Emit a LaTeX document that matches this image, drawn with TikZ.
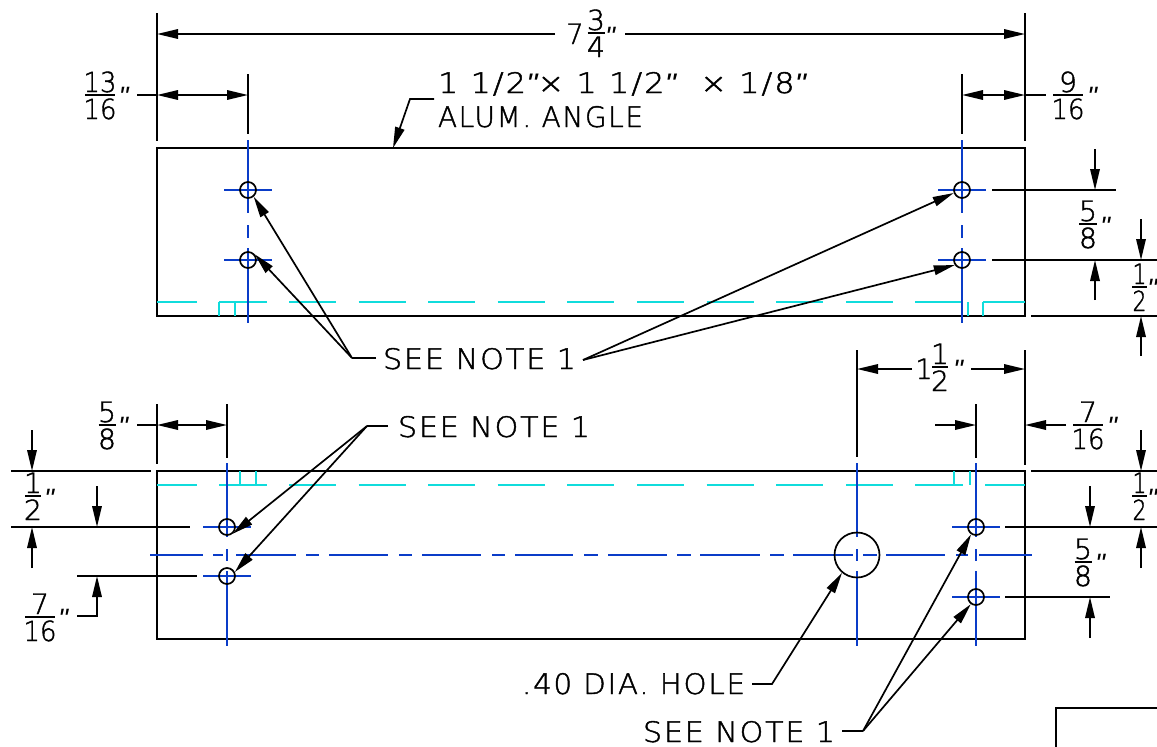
\documentclass[tikz,border=0pt]{standalone}
\usepackage{fontspec}
\usepackage{graphicx}
\usetikzlibrary{arrows.meta}
\setmainfont{DejaVu Sans}
\newfontfamily\cad[LetterSpace=6,FakeBold=1.5]{DejaVu Sans ExtraLight}
\newfontfamily\cadd[FakeBold=1.5]{DejaVu Sans ExtraLight}
\newfontfamily\qf{Liberation Sans Italic}
\definecolor{cline}{HTML}{0A3CC8}
\definecolor{hline}{HTML}{10DCDC}
\tikzset{
  obj/.style={black,line width=1.8pt},
  thinl/.style={black,line width=1.7pt},
  dimarrow/.style={black,line width=1.7pt,-{Triangle[length=21pt,width=9.5pt]}},
  leader/.style={black,line width=1.7pt,-{Triangle[length=21pt,width=9.5pt]}},
  centre/.style={cline,line width=1.8pt},
  hidden/.style={hline,line width=1.7pt},
  hole/.style={circle,draw=black,line width=1.7pt,minimum size=16pt,inner sep=0pt},
  bighole/.style={circle,draw=black,line width=1.7pt,minimum size=45pt,inner sep=0pt},
  txt/.style={inner sep=0pt,outer sep=0pt,text=black}
}
% label: name, x, baseline y, width, height, text
\newcommand{\cadlabel}[6]{\node[txt,anchor=base west] (#1) at (#2,#3) {\resizebox{#4pt}{#5pt}{\cad #6}};}
% fraction: name, centre x, bar y, bar width, num box width, num, den box width, den
\newcommand{\cadfrac}[8]{%
  \node[txt,anchor=base] (#1n) at (#2,#3-3) {\resizebox{#5pt}{20.5pt}{\cadd #6}};
  \node[txt,anchor=base] (#1d) at (#2,#3+24) {\resizebox{#7pt}{20.5pt}{\cadd #8}};
  \draw[black,line width=1.5pt] ({#2-#4/2},#3) -- ({#2+#4/2},#3);}
% inch mark: name, centre x, baseline y
\newcommand{\cadinch}[3]{\node[txt,anchor=base] (#1) at (#2,#3) {\fontsize{28}{28}\qf "};}
\begin{document}
\begin{tikzpicture}[x=1pt,y=-1pt]
\useasboundingbox (0,0) rectangle (1157,747);
\clip (0,0) rectangle (1157,747);

% ---------- plates
\draw[obj] (157,148) rectangle (1025,316);
\draw[obj] (157,471) rectangle (1025,639);
\draw[obj] (1157,708) -- (1056,708) -- (1056,747);

% ---------- hidden lines, top view
\foreach \a/\b in {157/197,219/267,289/336,358.6/405.6,428/475,497.6/544.6,567/614,637/684,706.6/753.6,776/823,846/893,915/962,983/1025}
  \draw[hidden] (\a,302) -- (\b,302);
\foreach \a in {219,235,968,983}
  \draw[hidden] (\a,302) -- (\a,316);
% ---------- hidden lines, bottom view
\foreach \a/\b in {157/197,219/267,289/336,358.6/405.6,428/475,497.6/544.6,567/614,637/684,706.6/753.6,776/823,846/893,915/963,985/1025}
  \draw[hidden] (\a,485) -- (\b,485);
\foreach \a in {240,256,954,970}
  \draw[hidden] (\a,471) -- (\a,485);

% ---------- centre lines, top view
\foreach \x in {248,962}{
  \draw[centre] (\x,140) -- (\x,213);
  \draw[centre] (\x,225) -- (\x,238);
  \draw[centre] (\x,248) -- (\x,323);
  \draw[centre] ({\x-24},190) -- ({\x+24},190);
  \draw[centre] ({\x-24},260) -- ({\x+24},260);
}
% ---------- centre lines, bottom view
\foreach \x in {227,857,976}{
  \draw[centre] (\x,463) -- (\x,537);
  \draw[centre] (\x,549) -- (\x,561);
  \draw[centre] (\x,571) -- (\x,646);
}
\foreach \a/\b in {150/203,213/223,236/296,306/319,329/388,399/412,422/481,492/505,515/573,584/598,608/667,677/691,700/760,770/784,793/853,863/877,886/945,956/968,979/1032}
  \draw[centre] (\a,555) -- (\b,555);
\foreach \y in {527,576}
  \draw[centre] (203,\y) -- (251,\y);
\foreach \y in {527,597}
  \draw[centre] (952,\y) -- (1000,\y);

% ---------- holes
\node[hole] (h1) at (248,190) {};
\node[hole] (h2) at (248,260) {};
\node[hole] (h3) at (962,190) {};
\node[hole] (h4) at (962,260) {};
\node[hole] (b1) at (227,527) {};
\node[hole] (b2) at (227,576) {};
\node[hole] (b3) at (976,527) {};
\node[hole] (b4) at (976,597) {};
\node[bighole] (big) at (857,555) {};

% ---------- extension lines, top view
\draw[thinl] (157,13) -- (157,141);
\draw[thinl] (1025,13) -- (1025,141);
\draw[thinl] (248,74) -- (248,134);
\draw[thinl] (962,74) -- (962,134);
\draw[thinl] (992,190) -- (1116,190);
\draw[thinl] (992,260) -- (1157,260);
\draw[thinl] (1031,316) -- (1157,316);
% ---------- extension lines, bottom view
\draw[thinl] (157,404) -- (157,464);
\draw[thinl] (227,404) -- (227,458);
\draw[thinl] (857,350) -- (857,457);
\draw[thinl] (1025,350) -- (1025,465);
\draw[thinl] (976,404) -- (976,458);
\draw[thinl] (11,471) -- (151,471);
\draw[thinl] (11,527) -- (190,527);
\draw[thinl] (77,576) -- (197,576);
\draw[thinl] (1031,471) -- (1157,471);
\draw[thinl] (1005,527) -- (1157,527);
\draw[thinl] (1005,597) -- (1110,597);

% ---------- horizontal dimensions
\draw[dimarrow] (555,34) -- (157,34);
\draw[dimarrow] (625,34) -- (1025,34);
\draw[thinl] (137,95) -- (157,95);
\draw[dimarrow] (200,95) -- (157,95);
\draw[dimarrow] (200,95) -- (248,95);
\draw[dimarrow] (1005,95) -- (962,95);
\draw[dimarrow] (1000,95) -- (1025,95);
\draw[thinl] (1025,95) -- (1046,95);
\draw[dimarrow] (912,369) -- (857,369);
\draw[dimarrow] (971,369) -- (1025,369);
\draw[thinl] (137,425) -- (157,425);
\draw[dimarrow] (190,425) -- (157,425);
\draw[dimarrow] (190,425) -- (227,425);
\draw[dimarrow] (935,425) -- (976,425);
\draw[dimarrow] (1066,425) -- (1025,425);

% ---------- vertical dimensions
\draw[dimarrow] (1095,149) -- (1095,190);
\draw[dimarrow] (1095,300) -- (1095,260);
\draw[dimarrow] (1141,219) -- (1141,260);
\draw[dimarrow] (1141,356) -- (1141,316);
\draw[dimarrow] (32,430) -- (32,471);
\draw[dimarrow] (32,568) -- (32,527);
\draw[dimarrow] (97,486) -- (97,527);
\draw[dimarrow] (77,616) -- (97,616) -- (97,576);
\draw[dimarrow] (1090,486) -- (1090,527);
\draw[dimarrow] (1090,638) -- (1090,597);
\draw[dimarrow] (1141,430) -- (1141,471);
\draw[dimarrow] (1141,568) -- (1141,527);

% ---------- dimension texts
\node[txt,anchor=base] (d7) at (575,44) {\resizebox{17pt}{20.5pt}{\cadd 7}};
\cadfrac{da}{596}{33}{17}{18}{3}{18}{4}
\cadinch{qa}{610}{46}
\cadfrac{db}{100}{95}{30}{33}{13}{33}{16}
\cadinch{qb}{123.5}{106}
\cadfrac{dc}{1068}{95}{30}{18}{9}{33}{16}
\cadinch{qc}{1092}{106}
\cadfrac{dd}{1088}{224}{18}{18}{5}{18}{8}
\cadinch{qd}{1105}{236}
\cadfrac{de}{1139.5}{287}{15}{14}{1}{14}{2}
\cadinch{qe}{1152}{298}
\node[txt,anchor=base] (d1) at (924,379) {\resizebox{17pt}{20.5pt}{\cadd 1}};
\cadfrac{df}{940}{367}{16}{18}{1}{18}{2}
\cadinch{qf}{958}{379}
\cadfrac{dg}{107}{425}{17}{18}{5}{18}{8}
\cadinch{qg}{123}{436}
\cadfrac{dh}{1088}{425}{30}{18}{7}{33}{16}
\cadinch{qh}{1112}{436}
\cadfrac{di}{33}{496}{16}{18}{1}{18}{2}
\cadinch{qi}{49}{508}
\cadfrac{dj}{40}{617}{30}{18}{7}{33}{16}
\cadinch{qj}{63}{628}
\cadfrac{dk}{1083}{562}{17}{18}{5}{18}{8}
\cadinch{qk}{1100}{573}
\cadfrac{dl}{1139.5}{496}{15}{14}{1}{14}{2}
\cadinch{ql}{1152}{508}

% ---------- notes
\node[txt,anchor=base west] (angle) at (438,93) {\resizebox{368pt}{21pt}{\cad 1 1/2{\qf "}× 1 1/2{\qf "}\ \ × 1/8{\qf "}}};
\cadlabel{alum}{438}{127}{205}{21}{ALUM.\ ANGLE}
\cadlabel{snA}{383}{369}{193}{21}{SEE NOTE 1}
\cadlabel{snB}{398}{437}{192}{21}{SEE NOTE 1}
\cadlabel{dia}{522}{694}{223}{21}{.40 DIA.\ HOLE}
\cadlabel{snC}{643}{742}{192}{21}{SEE NOTE 1}

% ---------- leaders
\coordinate (kAngleS) at (434,99);
\coordinate (kAngle) at (410,99);
\coordinate (angleTip) at (393,148);
\draw[leader] (kAngleS) -- (kAngle) -- (angleTip);

\coordinate (kAs) at (376,358);
\coordinate (kA) at (352,358);
\draw[thinl] (kAs) -- (kA);
\draw[leader] (kA) -- (h1.-50);
\draw[leader] (kA) -- (h2.40);

\coordinate (kR) at (583,360);
\draw[leader] (kR) -- (h3.200);
\draw[leader] (kR) -- (h4.215);

\coordinate (kBs) at (388,426);
\coordinate (kB) at (367,426);
\draw[thinl] (kBs) -- (kB);
\draw[leader] (kB) -- (b1.-50);
\draw[leader] (kB) -- (b2.27);

\coordinate (kDs) at (752,684);
\coordinate (kD) at (772,684);
\draw[leader] (kDs) -- (kD) -- (big.230);

\coordinate (kCs) at (842,731);
\coordinate (kC) at (863,731);
\draw[thinl] (kCs) -- (kC);
\draw[leader] (kC) -- (b3.236);
\draw[leader] (kC) -- (b4.234);
\end{tikzpicture}
\end{document}
